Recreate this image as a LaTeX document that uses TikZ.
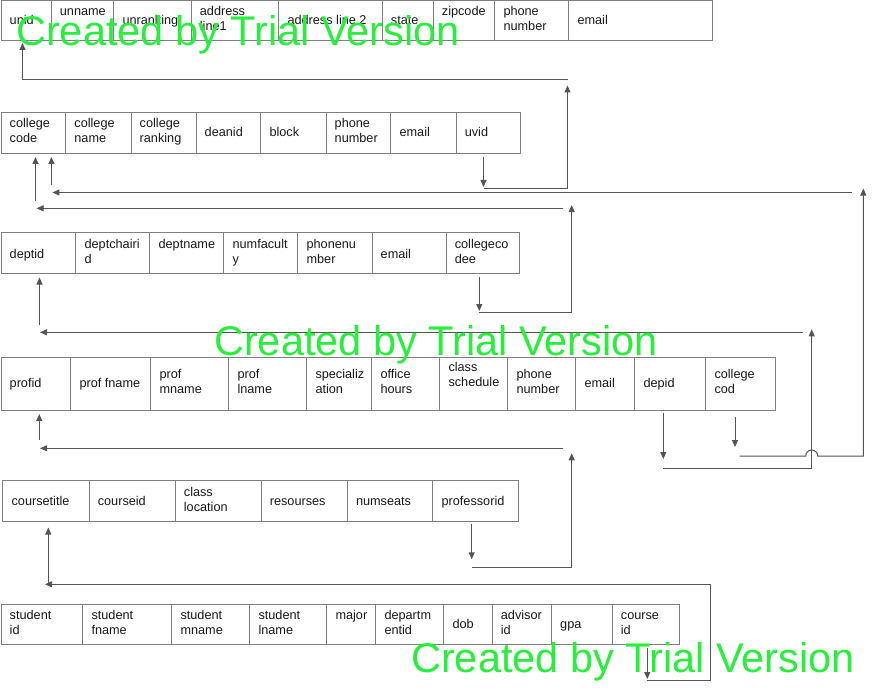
\documentclass[tikz,border=0pt]{standalone}
\usepackage{fontspec}
\setmainfont{Liberation Sans}
\usetikzlibrary{arrows.meta}
\definecolor{cellline}{RGB}{128,128,128}
\definecolor{connc}{RGB}{85,85,85}
\definecolor{wmc}{RGB}{40,238,60}
\newcommand\twol[2]{\vtop{\baselineskip=15pt\hbox{#1}\hbox{#2}}}
\newcommand\cellt[7]{%
  \node[cellbox, minimum width={(#4-#2)*1pt}, minimum height={(#5-#3)*1pt}] (#1) at (#2,#3) {};
  \node[celltext] (#1-t) at ({#2+9},#6) {#7};}
\begin{document}
\begin{tikzpicture}[x=1pt,y=-1pt,
  cellbox/.style={draw=cellline, line width=0.9pt, inner sep=0pt, anchor=north west},
  celltext/.style={anchor=base west, inner sep=0pt, font=\fontsize{12.7}{15}\selectfont, text=black!90},
  conn/.style={draw=connc, line width=1pt},
  arr/.style={conn, -{Triangle[length=7pt,width=6pt]}},
  wmark/.style={anchor=base west, inner sep=0pt, font=\fontsize{41.5}{41.5}\selectfont, text=wmc}]
\useasboundingbox (0,0) rectangle (873,690);

% Row 1: university
\cellt{unid}{0.5}{0.5}{50.7}{40.3}{25}{unid}
\cellt{unname}{50.7}{0.5}{113.3}{40.3}{16}{unname}
\cellt{unranking}{113.3}{0.5}{190.7}{40.3}{25}{unranking}
\cellt{uaddr1}{190.7}{0.5}{278.3}{40.3}{16}{\twol{address}{line1}}
\cellt{uaddr2}{278.3}{0.5}{381.7}{40.3}{25}{address line 2}
\cellt{ustate}{381.7}{0.5}{432.7}{40.3}{25}{state}
\cellt{uzip}{432.7}{0.5}{494.3}{40.3}{16}{zipcode}
\cellt{uphone}{494.3}{0.5}{568.3}{40.3}{16}{\twol{phone}{number}}
\cellt{uemail}{568.3}{0.5}{711.7}{40.3}{25}{email}

% Row 2: college
\cellt{ccode}{0.5}{112.4}{65.2}{152.6}{128}{\twol{college}{code}}
\cellt{cname}{65.2}{112.4}{130.5}{152.6}{128}{\twol{college}{name}}
\cellt{crank}{130.5}{112.4}{195.5}{152.6}{128}{\twol{college}{ranking}}
\cellt{cdean}{195.5}{112.4}{260.3}{152.6}{137}{deanid}
\cellt{cblock}{260.3}{112.4}{325.5}{152.6}{137}{block}
\cellt{cphone}{325.5}{112.4}{390.4}{152.6}{128}{\twol{phone}{number}}
\cellt{cemail}{390.4}{112.4}{455.6}{152.6}{137}{email}
\cellt{cuvid}{455.6}{112.4}{520.2}{152.6}{137}{uvid}

% Row 3: department
\cellt{did}{0.5}{232.4}{75.4}{272.6}{258}{deptid}
\cellt{dchair}{75.4}{232.4}{149.4}{272.6}{248}{\twol{deptchairi}{d}}
\cellt{dname}{149.4}{232.4}{223.4}{272.6}{248}{deptname}
\cellt{dnumf}{223.4}{232.4}{297.4}{272.6}{248}{\twol{numfacult}{y}}
\cellt{dphone}{297.4}{232.4}{371.5}{272.6}{248}{\twol{phonenu}{mber}}
\cellt{demail}{371.5}{232.4}{445.6}{272.6}{258}{email}
\cellt{dcc}{445.6}{232.4}{519.4}{272.6}{248}{\twol{collegeco}{dee}}

% Row 4: professor
\cellt{pid}{0.5}{356.5}{70.3}{410}{387.5}{profid}
\cellt{pfname}{70.3}{356.5}{150.3}{410}{387.5}{prof fname}
\cellt{pmname}{150.3}{356.5}{228.3}{410}{378.5}{\twol{prof}{mname}}
\cellt{plname}{228.3}{356.5}{306.3}{410}{378.5}{\twol{prof}{lname}}
\cellt{pspec}{306.3}{356.5}{371.3}{410}{378.5}{\twol{specializ}{ation}}
\cellt{poffice}{371.3}{356.5}{439.3}{410}{378.5}{\twol{office}{hours}}
\cellt{psched}{439.3}{356.5}{507.3}{410}{371}{\twol{class}{schedule}}
\cellt{pphone}{507.3}{356.5}{575.3}{410}{378.5}{\twol{phone}{number}}
\cellt{pemail}{575.3}{356.5}{634.3}{410}{387.5}{email}
\cellt{pdepid}{634.3}{356.5}{705.3}{410}{387.5}{depid}
\cellt{pcc}{705.3}{356.5}{775.3}{410}{378.5}{\twol{college}{cod}}

% Row 5: course
\cellt{ctitle}{2.4}{480.3}{88.6}{520.5}{505.5}{coursetitle}
\cellt{cid}{88.6}{480.3}{174.7}{520.5}{505.5}{courseid}
\cellt{cloc}{174.7}{480.3}{260.6}{520.5}{496}{\twol{class}{location}}
\cellt{cres}{260.6}{480.3}{346.8}{520.5}{505.5}{resourses}
\cellt{cseats}{346.8}{480.3}{432.4}{520.5}{505.5}{numseats}
\cellt{cprof}{432.4}{480.3}{518.4}{520.5}{505.5}{professorid}

% Row 6: student
\cellt{sid}{0.5}{604.3}{82.3}{644.3}{619}{\twol{student}{id}}
\cellt{sfname}{82.3}{604.3}{171.3}{644.3}{619}{\twol{student}{fname}}
\cellt{smname}{171.3}{604.3}{249.3}{644.3}{619}{\twol{student}{mname}}
\cellt{slname}{249.3}{604.3}{326.3}{644.3}{619}{\twol{student}{lname}}
\cellt{smajor}{326.3}{604.3}{375.3}{644.3}{619}{major}
\cellt{sdept}{375.3}{604.3}{443.3}{644.3}{619}{\twol{departm}{entid}}
\cellt{sdob}{443.3}{604.3}{491.7}{644.3}{628.5}{dob}
\cellt{sadv}{491.7}{604.3}{551}{644.3}{619}{\twol{advisor}{id}}
\cellt{sgpa}{551}{604.3}{611.7}{644.3}{628.5}{gpa}
\cellt{scid}{611.7}{604.3}{679.3}{644.3}{619}{\twol{course}{id}}

% Connector points
% R1 uvid -> unid
\coordinate (r1a) at (483.5,157);
\coordinate (r1b) at (483.5,187);
\coordinate (r1c) at (483.5,188);
\coordinate (r1d) at (567.5,188);
\coordinate (r1e) at (567.5,85.5);
\coordinate (r1f) at (567.5,80);
\coordinate (r1g) at (22.5,80);
\coordinate (r1h) at (22.5,43);
% R2 college cod -> college code
\coordinate (r2a) at (735,417);
\coordinate (r2b) at (735,447);
\coordinate (r2c) at (739.5,456);
\coordinate (r2d) at (805.7,456);
\coordinate (r2f) at (863.3,456);
\coordinate (r2g) at (863.3,188.5);
\coordinate (r2h) at (851.7,192.5);
\coordinate (r2i) at (52.4,192.5);
\coordinate (r2j) at (51.4,185);
\coordinate (r2k) at (51.4,157);
% R3 collegecodee -> college code
\coordinate (r3a) at (479.3,277);
\coordinate (r3b) at (479.3,311);
\coordinate (r3c) at (479.3,312.3);
\coordinate (r3d) at (571.7,312.3);
\coordinate (r3e) at (571.7,205);
\coordinate (r3f) at (563.3,208.3);
\coordinate (r3g) at (36.5,208.3);
\coordinate (r3h) at (35.5,201);
\coordinate (r3i) at (35.5,157);
% R4 depid -> deptid
\coordinate (r4a) at (663.3,413);
\coordinate (r4b) at (663.3,459);
\coordinate (r4c) at (663.3,468.3);
\coordinate (r4d) at (811.7,468.3);
\coordinate (r4e) at (811.7,329.3);
\coordinate (r4f) at (803.3,332.3);
\coordinate (r4g) at (40,332.3);
\coordinate (r4h) at (39.5,325);
\coordinate (r4i) at (39.5,277.5);
% R5 professorid -> profid
\coordinate (r5a) at (471.7,524.3);
\coordinate (r5b) at (471.7,559.3);
\coordinate (r5c) at (471.7,567.7);
\coordinate (r5d) at (571.7,567.7);
\coordinate (r5e) at (571.7,453.3);
\coordinate (r5f) at (563.3,448.3);
\coordinate (r5g) at (40,448.3);
\coordinate (r5h) at (39.3,440);
\coordinate (r5i) at (39.3,414);
% R6 course id -> coursetitle
\coordinate (r6a) at (647.3,648);
\coordinate (r6b) at (647.3,679);
\coordinate (r6c) at (647.3,680);
\coordinate (r6d) at (710,680);
\coordinate (r6e) at (710,584.3);
\coordinate (r6f) at (45,584.3);
\coordinate (r6g) at (48.3,585);
\coordinate (r6h) at (48.3,527.5);

% Connectors
\draw[arr] (r1a) -- (r1b);
\draw[arr] (r1c) -- (r1d) -- (r1e);
\draw[arr] (r1f) -- (r1g) -- (r1h);

\draw[arr] (r2a) -- (r2b);
\draw[arr] (r2c) -- (r2d) arc[start angle=180, end angle=360, radius=6] -- (r2f) -- (r2g);
\draw[arr] (r2h) -- (r2i);
\draw[arr] (r2j) -- (r2k);

\draw[arr] (r3a) -- (r3b);
\draw[arr] (r3c) -- (r3d) -- (r3e);
\draw[arr] (r3f) -- (r3g);
\draw[arr] (r3h) -- (r3i);

\draw[arr] (r4a) -- (r4b);
\draw[arr] (r4c) -- (r4d) -- (r4e);
\draw[arr] (r4f) -- (r4g);
\draw[arr] (r4h) -- (r4i);

\draw[arr] (r5a) -- (r5b);
\draw[arr] (r5c) -- (r5d) -- (r5e);
\draw[arr] (r5f) -- (r5g);
\draw[arr] (r5h) -- (r5i);

\draw[arr] (r6a) -- (r6b);
\draw[arr] (r6c) -- (r6d) -- (r6e) -- (r6f);
\draw[arr] (r6g) -- (r6h);

% Watermarks
\node[wmark] (wm1) at (16,45.5) {Created by Trial Version};
\node[wmark] (wm2) at (214,355.5) {Created by Trial Version};
\node[wmark] (wm3) at (411,672) {Created by Trial Version};
\end{tikzpicture}
\end{document}
